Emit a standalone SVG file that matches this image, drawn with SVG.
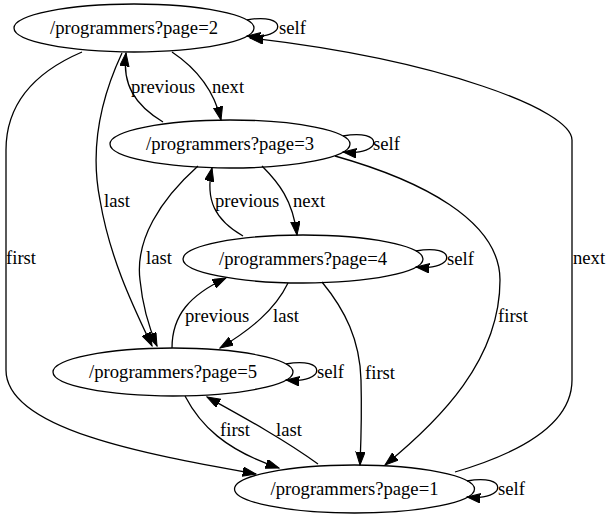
<svg xmlns="http://www.w3.org/2000/svg" width="609" height="517" viewBox="0 0 609 517">
<style>
.n ellipse{fill:none;stroke:#000;stroke-width:1.3}
.n text{text-anchor:middle}
.e path{fill:none;stroke:#000;stroke-width:1.3;marker-end:url(#arr)}
text{font-family:Liberation Serif, Times New Roman, Times, serif}
</style>
<defs>
<marker id="arr" markerUnits="userSpaceOnUse" viewBox="0 0 14 10" markerWidth="14" markerHeight="10" refX="13.3" refY="4.67" orient="auto">
<path d="M0,0 L13.3,4.67 L0,9.33 z" fill="#000" stroke="#000" stroke-width="1"/>
</marker>
</defs>
<rect width="609" height="517" fill="#fff"/>
<g font-family="Liberation Serif, Times New Roman, Times, serif" font-size="18.67" fill="#000">
<g id="edges" class="e">
<path d="M247,20 C288,12 288,40 247,36"/><text x="279" y="34">self</text>
<path d="M343,136 C384,128 384,156 343,152"/><text x="373" y="150">self</text>
<path d="M416,251 C457,243 457,271 416,267"/><text x="447" y="265">self</text>
<path d="M286,364 C327,356 327,384 286,380"/><text x="317" y="378">self</text>
<path d="M467,481 C508,473 508,501 467,497"/><text x="498" y="495">self</text>
<path d="M172,52 C196,68 214,90 221,120"/><text x="212" y="93">next</text>
<path d="M163,122 C135,105 122,85 126,53"/><text x="131" y="93">previous</text>
<path d="M122,53 C100,100 90,150 100,200 C110,260 135,310 152,346"/><text x="104" y="207">last</text>
<path d="M198,166 C160,200 135,240 140,280 C143,310 150,330 157,346"/><text x="146" y="264">last</text>
<path d="M262,166 C278,182 293,200 297,235"/><text x="293" y="207">next</text>
<path d="M243,236 C215,220 205,200 212,168"/><text x="215" y="207">previous</text>
<path d="M288,283 C275,310 250,330 220,348"/><text x="273" y="322">last</text>
<path d="M172,348 C172,315 190,295 226,278"/><text x="185" y="322">previous</text>
<path d="M322,282 C345,310 360,340 361,380 C362,420 361,440 360,465"/><text x="365" y="379">first</text>
<path d="M335,156 C420,180 500,220 500,280 C500,360 440,420 385,465"/><text x="498" y="322">first</text>
<path d="M455,472 C530,450 572,420 572,380 L572,140 C572,110 440,60 250,38"/><text x="573" y="264">next</text>
<path d="M82,52 C40,70 6,100 6,150 L6,370 C6,430 150,455 256,474"/><text x="6" y="264">first</text>
<path d="M185,396 C200,425 225,450 279,468"/><text x="220" y="436">first</text>
<path d="M318,464 C285,440 245,418 207,397"/><text x="276" y="436">last</text>
</g>
<g id="node2" class="n"><ellipse cx="134" cy="28" rx="120" ry="24"/><text x="134" y="34">/programmers?page=2</text></g>
<g id="node3" class="n"><ellipse cx="230" cy="144" rx="120" ry="24"/><text x="230" y="150">/programmers?page=3</text></g>
<g id="node4" class="n"><ellipse cx="303" cy="259" rx="120" ry="24"/><text x="303" y="265">/programmers?page=4</text></g>
<g id="node5" class="n"><ellipse cx="173" cy="372" rx="120" ry="24"/><text x="173" y="378">/programmers?page=5</text></g>
<g id="node1" class="n"><ellipse cx="354.5" cy="489" rx="120" ry="24"/><text x="354.5" y="495">/programmers?page=1</text></g>
</g>
</svg>
